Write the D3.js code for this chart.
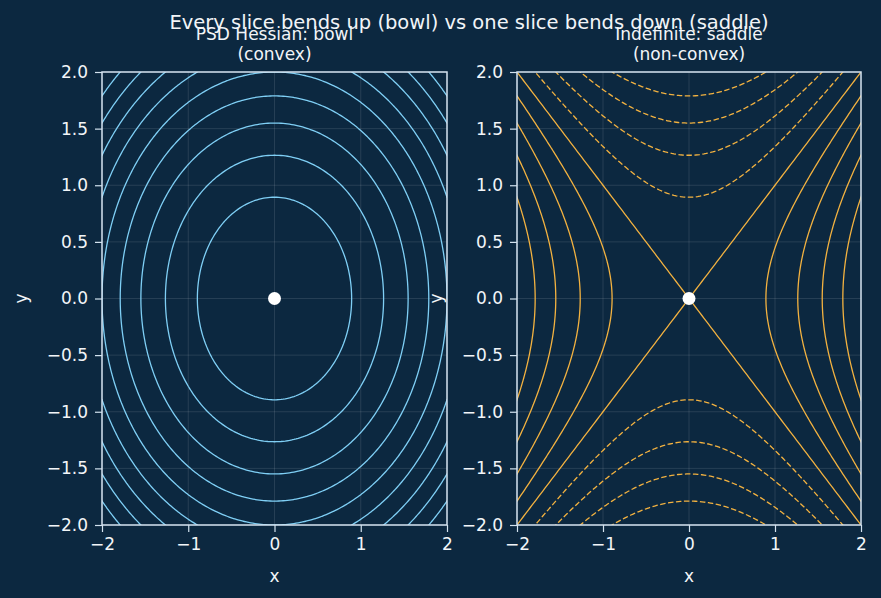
<!DOCTYPE html>
<html>
<head>
<meta charset="utf-8">
<script src="https://cdn.jsdelivr.net/npm/d3@7"></script>
<style>
  html, body { margin: 0; padding: 0; background: #0c2840; }
  svg { display: block; font-family: "DejaVu Sans", sans-serif; }
</style>
</head>
<body>
<svg id="chart" width="881" height="598"></svg>
<script>
// Hessians of the two quadratics f = 1/2 * v' H v
const bowlHessian = [[2, 0], [0, 2]];
const saddleHessian = [[2, 0], [0, -2]];

// contour levels
const bowlLevels = [0.8, 1.6, 2.4, 3.2, 4.0, 4.8, 5.6, 6.4, 7.2];
const saddleLevels = [-3.2, -2.4, -1.6, -0.8, 0, 0.8, 1.6, 2.4, 3.2];

const xTicks = [-2, -1, 0, 1, 2];
const yTicks = [-2, -1.5, -1, -0.5, 0, 0.5, 1, 1.5, 2];
const domain = [-2, 2];
const criticalPoint = [0, 0];

const panels = [
  { title: ['PSD Hessian: bowl', '(convex)'], hessian: bowlHessian, levels: bowlLevels,
    color: '#7fcff5', left: 102, right: 447 },
  { title: ['Indefinite: saddle', '(non-convex)'], hessian: saddleHessian, levels: saddleLevels,
    color: '#f3b240', left: 517, right: 861 }
];

const plotTop = 72, plotBottom = 525;
const bg = '#0c2840', fg = '#f2f5f8', spine = '#d3e2ef';
const svg = d3.select('#chart');

svg.append('rect').attr('width', 881).attr('height', 598).attr('fill', bg);

svg.append('text')
  .attr('x', 469).attr('y', 29)
  .attr('text-anchor', 'middle')
  .attr('fill', fg)
  .style('font-size', '19.5px')
  .text('Every slice bends up (bowl) vs one slice bends down (saddle)');

// sample grid for the contour field
const n = 161;
const step = (domain[1] - domain[0]) / (n - 1);

panels.forEach(function (p, k) {
  let x = d3.scaleLinear().domain(domain).range([p.left, p.right]);
  let y = d3.scaleLinear().domain(domain).range([plotBottom, plotTop]);
  let g = svg.append('g');

  // grid
  g.append('g').selectAll('line').data(xTicks).enter().append('line')
    .attr('x1', d => x(d)).attr('x2', d => x(d))
    .attr('y1', plotTop).attr('y2', plotBottom)
    .attr('stroke', '#ffffff').attr('stroke-opacity', 0.14).attr('stroke-width', 0.8);
  g.append('g').selectAll('line').data(yTicks).enter().append('line')
    .attr('y1', d => y(d)).attr('y2', d => y(d))
    .attr('x1', p.left).attr('x2', p.right)
    .attr('stroke', '#ffffff').attr('stroke-opacity', 0.14).attr('stroke-width', 0.8);

  // field values f(x, y) = 1/2 v'Hv
  let H = p.hessian;
  let values = new Array(n * n);
  for (let j = 0; j < n; j++) {
    for (let i = 0; i < n; i++) {
      let vx = domain[0] + i * step, vy = domain[0] + j * step;
      values[j * n + i] = 0.5 * (H[0][0] * vx * vx + 2 * H[0][1] * vx * vy + H[1][1] * vy * vy);
    }
  }

  let clipId = 'clip' + k;
  svg.append('clipPath').attr('id', clipId)
    .append('rect')
    .attr('x', p.left).attr('y', plotTop)
    .attr('width', p.right - p.left).attr('height', plotBottom - plotTop);

  let path = d3.geoPath(d3.geoTransform({
    point: function (cx, cy) {
      this.stream.point(x(domain[0] + (cx - 0.5) * step), y(domain[0] + (cy - 0.5) * step));
    }
  }));

  let contours = d3.contours().size([n, n]).thresholds(p.levels)(values);

  g.append('g').attr('clip-path', 'url(#' + clipId + ')')
    .selectAll('path').data(contours).enter().append('path')
    .attr('d', path)
    .attr('fill', 'none')
    .attr('stroke', p.color)
    .attr('stroke-width', 1.3)
    .attr('stroke-dasharray', d => d.value < 0 ? '5.5,2.5' : null);

  // critical point
  g.append('circle')
    .attr('cx', x(criticalPoint[0])).attr('cy', y(criticalPoint[1]))
    .attr('r', 6.5).attr('fill', '#ffffff');

  // spines
  g.append('rect')
    .attr('x', p.left).attr('y', plotTop)
    .attr('width', p.right - p.left).attr('height', plotBottom - plotTop)
    .attr('fill', 'none').attr('stroke', spine).attr('stroke-width', 1.5);

  // axes
  let xAxis = d3.axisBottom(x).tickValues(xTicks).tickSize(7).tickPadding(6)
    .tickFormat(d3.format('d'));
  let yAxis = d3.axisLeft(y).tickValues(yTicks).tickSize(7).tickPadding(7)
    .tickFormat(d3.format('.1f'));

  let gx = g.append('g').attr('transform', 'translate(0,' + plotBottom + ')').call(xAxis);
  let gy = g.append('g').attr('transform', 'translate(' + p.left + ',0)').call(yAxis);
  [gx, gy].forEach(function (a) {
    a.select('.domain').remove();
    a.selectAll('line').attr('stroke', spine).attr('stroke-width', 1.2);
    a.selectAll('text').attr('fill', fg).style('font-size', '17px')
      .style('font-family', '"DejaVu Sans", sans-serif');
  });

  // axis labels
  g.append('text')
    .attr('x', (p.left + p.right) / 2).attr('y', 582)
    .attr('text-anchor', 'middle').attr('fill', fg)
    .style('font-size', '17px').text('x');
  g.append('text')
    .attr('transform', 'translate(' + (p.left - 75) + ',' + ((plotTop + plotBottom) / 2) + ') rotate(-90)')
    .attr('text-anchor', 'middle').attr('fill', fg)
    .style('font-size', '17px').text('y');

  // panel title
  let t = g.append('text')
    .attr('text-anchor', 'middle').attr('fill', fg)
    .style('font-size', '17px');
  p.title.forEach(function (line, i) {
    t.append('tspan')
      .attr('x', (p.left + p.right) / 2)
      .attr('y', 40 + i * 20)
      .text(line);
  });
});
</script>
</body>
</html>
